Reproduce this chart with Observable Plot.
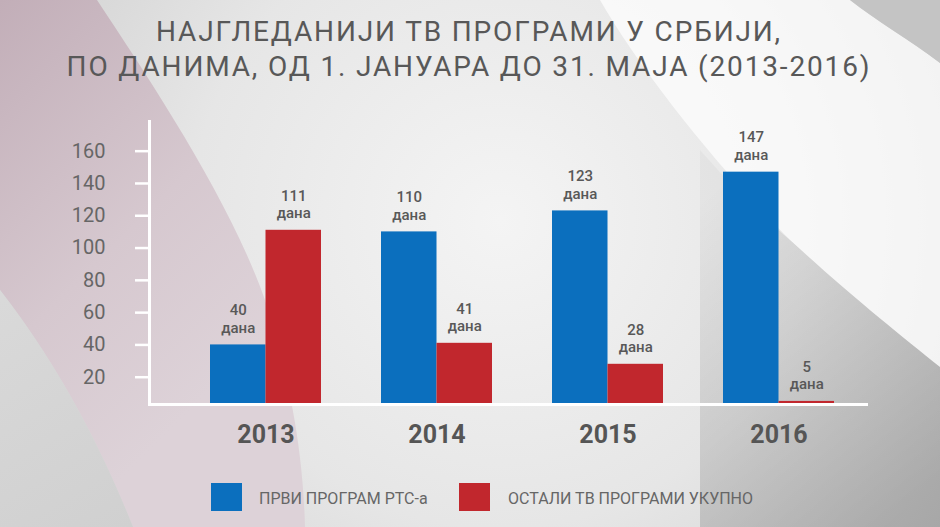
<!DOCTYPE html>
<html>
<head>
<meta charset="utf-8">
<script src="https://cdn.jsdelivr.net/npm/d3@7"></script>
<script src="https://cdn.jsdelivr.net/npm/@observablehq/plot@0.6"></script>
<style>
  html, body { margin: 0; padding: 0; background: #e4e4e4; }
  #wrap { position: relative; width: 940px; height: 527px; overflow: hidden; font-family: Roboto, "Open Sans", sans-serif; }
  #bg { position: absolute; left: 0; top: 0; }
  #title { position: absolute; left: 0; top: 14px; width: 938px; text-align: center; font-size: 28px; line-height: 35px; letter-spacing: 1.85px; color: #585858; font-weight: 400; }
  #chart { position: absolute; left: 0; top: 100px; }
  .sw { position: absolute; width: 31px; height: 28px; top: 483px; }
  .lt { position: absolute; top: 489px; font-size: 16px; line-height: 20px; color: #666; }
</style>
</head>
<body>
<div id="wrap">
  <svg id="bg" width="940" height="527" viewBox="0 0 940 527">
    <defs>
      <radialGradient id="base" cx="500" cy="220" r="560" gradientUnits="userSpaceOnUse">
        <stop offset="0" stop-color="#f4f4f4"/>
        <stop offset="0.55" stop-color="#e6e6e6"/>
        <stop offset="1" stop-color="#cfcfcf"/>
      </radialGradient>
      <linearGradient id="pink" x1="0" y1="0" x2="300" y2="300" gradientUnits="userSpaceOnUse">
        <stop offset="0" stop-color="#c2aeb8"/>
        <stop offset="0.6" stop-color="#d6c8cf"/>
        <stop offset="1" stop-color="#ddd2d8"/>
      </linearGradient>
      <linearGradient id="wedge" x1="0" y1="300" x2="130" y2="527" gradientUnits="userSpaceOnUse">
        <stop offset="0" stop-color="#d9d9d9"/>
        <stop offset="1" stop-color="#d0d0d0"/>
      </linearGradient>
      <linearGradient id="shadow" x1="700" y1="200" x2="940" y2="480" gradientUnits="userSpaceOnUse">
        <stop offset="0" stop-color="#000" stop-opacity="0.03"/>
        <stop offset="1" stop-color="#000" stop-opacity="0.2"/>
      </linearGradient>
    </defs>
    <rect width="940" height="527" fill="url(#base)"/>
    <path d="M0,0 L97,0 C150,80 230,200 265,300 C290,380 303,450 305,527 L133,527 C110,470 70,380 0,290 Z" fill="url(#pink)"/>
    <path d="M0,290 C70,380 110,470 133,527 L0,527 Z" fill="url(#wedge)"/>
    <path d="M600,0 C640,70 720,170 790,240 C850,295 900,335 940,367 L940,63 C910,40 875,20 850,0 Z" fill="#fff" fill-opacity="0.7"/>
    <path d="M850,0 C875,20 910,40 940,63 L940,0 Z" fill="#c4c4c4"/>
    <path d="M700,150 C740,195 760,215 790,240 C850,295 900,335 940,367 L940,527 L700,527 Z" fill="url(#shadow)"/>
  </svg>
  <div id="title">НАЈГЛЕДАНИЈИ ТВ ПРОГРАМИ У СРБИЈИ,<br>ПО ДАНИМА, ОД 1. ЈАНУАРА ДО 31. МАЈА (2013-2016)</div>
  <div id="chart"></div>
  <div id="legend"></div>
</div>
<script>
// ---- data ----
const years = ["2013", "2014", "2015", "2016"];
const rtsDays = [40, 110, 123, 147];
const otherDays = [111, 41, 28, 5];
const yTicks = [20, 40, 60, 80, 100, 120, 140, 160];
const seriesNames = ["ПРВИ ПРОГРАМ РТС-а", "ОСТАЛИ ТВ ПРОГРАМИ УКУПНО"];
const seriesColors = ["#0b6fbe", "#c1272d"];
const unitLabel = "дана";

const rtsData = years.map((y, i) => ({year: y, value: rtsDays[i]}));
const otherData = years.map((y, i) => ({year: y, value: otherDays[i]}));

const yMin = 3.1, yMax = 179;
const half = 55.5;

const labelStyle = {lineAnchor: "bottom", lineHeight: 1.18, fontSize: 15, fontWeight: 500, fill: "#585858", dy: -12};

const chart = Plot.plot({
  width: 940,
  height: 360,
  marginLeft: 148,
  marginRight: 72,
  marginTop: 20,
  marginBottom: 56,
  style: {background: "transparent", fontFamily: "Roboto, sans-serif", overflow: "visible"},
  x: {domain: years, range: [149, 895], padding: 0.352},
  y: {domain: [yMin, yMax]},
  marks: [
    Plot.barY(rtsData, {x: "year", y1: yMin, y2: "value", fill: seriesColors[0], insetRight: half}),
    Plot.barY(otherData, {x: "year", y1: yMin, y2: "value", fill: seriesColors[1], insetLeft: half}),
    Plot.text(rtsData, {x: "year", y: "value", text: d => `${d.value}\n${unitLabel}`, dx: -half / 2, ...labelStyle}),
    Plot.text(otherData, {x: "year", y: "value", text: d => `${d.value}\n${unitLabel}`, dx: half / 2, ...labelStyle}),
    Plot.ruleY([yMin], {stroke: "white", strokeWidth: 3}),
    Plot.ruleX([years[0]], {x: d => d, y1: yMin, y2: yMax, dx: -116.5, stroke: "white", strokeWidth: 3}),
    Plot.axisY({ticks: yTicks, tickFormat: d => String(d), tickSize: 13, tickPadding: 30, stroke: "white", strokeWidth: 2.5, strokeOpacity: 1, fill: "#666", fontSize: 20, label: null}),
    Plot.axisX({tickSize: 0, tickPadding: 21, fill: "#555", fontSize: 25, fontWeight: "bold", label: null})
  ]
});
document.getElementById("chart").appendChild(chart);

// legend
const legend = document.getElementById("legend");
const swX = [211, 459], txX = [259, 508];
seriesNames.forEach((name, i) => {
  const sw = document.createElement("div");
  sw.className = "sw";
  sw.style.left = swX[i] + "px";
  sw.style.background = seriesColors[i];
  legend.appendChild(sw);
  const t = document.createElement("div");
  t.className = "lt";
  t.style.left = txX[i] + "px";
  t.textContent = name;
  legend.appendChild(t);
});
</script>
</body>
</html>
